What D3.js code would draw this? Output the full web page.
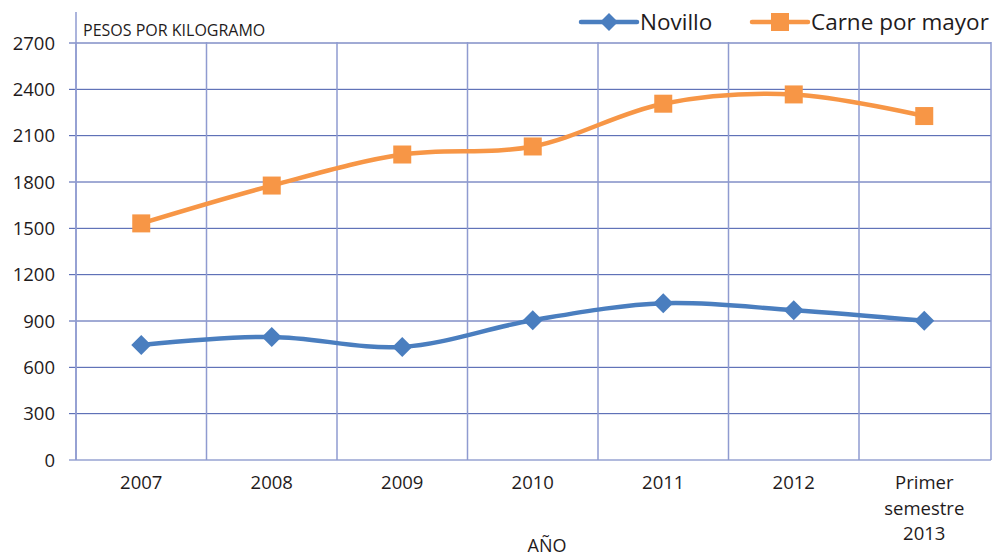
<!DOCTYPE html>
<html><head><meta charset="utf-8">
<script src="https://cdn.jsdelivr.net/npm/d3@7"></script>
<style>body{margin:0;background:#fff}text{font-family:"Open Sans",sans-serif;fill:#1f1b1c}</style>
</head><body><svg id="c" width="1007" height="557"></svg>
<script>
const categories = ["2007","2008","2009","2010","2011","2012","Primer semestre 2013"];
const novillo = [745, 797, 732, 905, 1015, 970, 902];
const carne = [1532, 1777, 1978, 2030, 2307, 2367, 2227];
const yTicks = [0,300,600,900,1200,1500,1800,2100,2400,2700];
const seriesNames = ["Novillo","Carne por mayor"];

const svg = d3.select("#c");
const m = {l:76, r:991, t:43, b:460};
const x = d3.scaleBand().domain(categories).range([m.l, m.r - 1.5]);
const y = d3.scaleLinear().domain([0,2700]).range([m.b, m.t]);

// horizontal grid
svg.append("g").selectAll("line").data(yTicks).join("line")
  .attr("x1", m.l-7).attr("x2", m.r).attr("y1", d=>y(d)).attr("y2", d=>y(d))
  .attr("stroke", d=> d===0 ? "#97a3d2" : "#4257aa").attr("stroke-width", d=> d===0?1.5:1);
// vertical grid
const bounds = categories.map(c=>x(c)).concat([m.r]);
svg.append("g").selectAll("line").data(bounds).join("line")
  .attr("x1", d=>d).attr("x2", d=>d).attr("y1", m.t - 1).attr("y2", m.b)
  .attr("stroke", "#8f9bd0").attr("stroke-width", 1.5);
svg.append("line").attr("x1", m.l).attr("x2", m.l).attr("y1", 12).attr("y2", m.b).attr("stroke","#8f9bd0").attr("stroke-width",1.5);

// y labels
svg.append("g").selectAll("text").data(yTicks).join("text")
  .attr("x", 55).attr("y", d=>y(d)).attr("dy","0.36em").attr("text-anchor","end")
  .style("font-size","18.5px").text(d=>d);

// x labels
const xl = svg.append("g");
categories.forEach(c=>{
  const words = c === "Primer semestre 2013" ? ["Primer","semestre","2013"] : [c];
  const t = xl.append("text").attr("text-anchor","middle").style("font-size","18.5px");
  words.forEach((w,i)=>t.append("tspan").attr("x", x(c)+x.bandwidth()/2).attr("y", 489 + i*25.5).text(w));
});
svg.append("text").attr("x",547).attr("y",552).attr("text-anchor","middle").style("font-size","18px").text("AÑO");
svg.append("text").attr("x",83).attr("y",36).style("font-size","16px").text("PESOS POR KILOGRAMO");

const cx = c => x(c)+x.bandwidth()/2;
const line = d3.line().x((d,i)=>cx(categories[i])).y(d=>y(d)).curve(d3.curveCatmullRom.alpha(0.5));
const colors = ["#4a7ebf","#f79646"];
[novillo, carne].forEach((s,k)=>{
  svg.append("path").attr("d", line(s)).attr("fill","none").attr("stroke",colors[k]).attr("stroke-width",4.5).attr("stroke-linecap","round");
});
svg.append("g").selectAll("path").data(novillo).join("path")
  .attr("transform",(d,i)=>`translate(${cx(categories[i])},${y(d)})`).attr("d", "M0,-10L10,0L0,10L-10,0Z").attr("fill",colors[0]);
svg.append("g").selectAll("rect").data(carne).join("rect")
  .attr("x",(d,i)=>cx(categories[i])-9).attr("y",d=>y(d)-9).attr("width",18).attr("height",18).attr("fill",colors[1]);

// legend
const lg = svg.append("g");
[[581,"Novillo"],[752,"Carne por mayor"]].forEach(([lx,name],k)=>{
  lg.append("line").attr("x1",lx).attr("x2",lx+56).attr("y1",22).attr("y2",22).attr("stroke",colors[k]).attr("stroke-width",4.5).attr("stroke-linecap","round");
  if(k===0) lg.append("path").attr("transform",`translate(${lx+28},22)`).attr("d","M0,-9L9,0L0,9L-9,0Z").attr("fill",colors[0]);
  else lg.append("rect").attr("x",lx+28-9).attr("y",13).attr("width",18).attr("height",18).attr("fill",colors[1]);
  lg.append("text").attr("x",lx+59).attr("y",22).attr("dy","0.36em").style("font-size","22.5px").text(seriesNames[k]);
});
</script></body></html>
